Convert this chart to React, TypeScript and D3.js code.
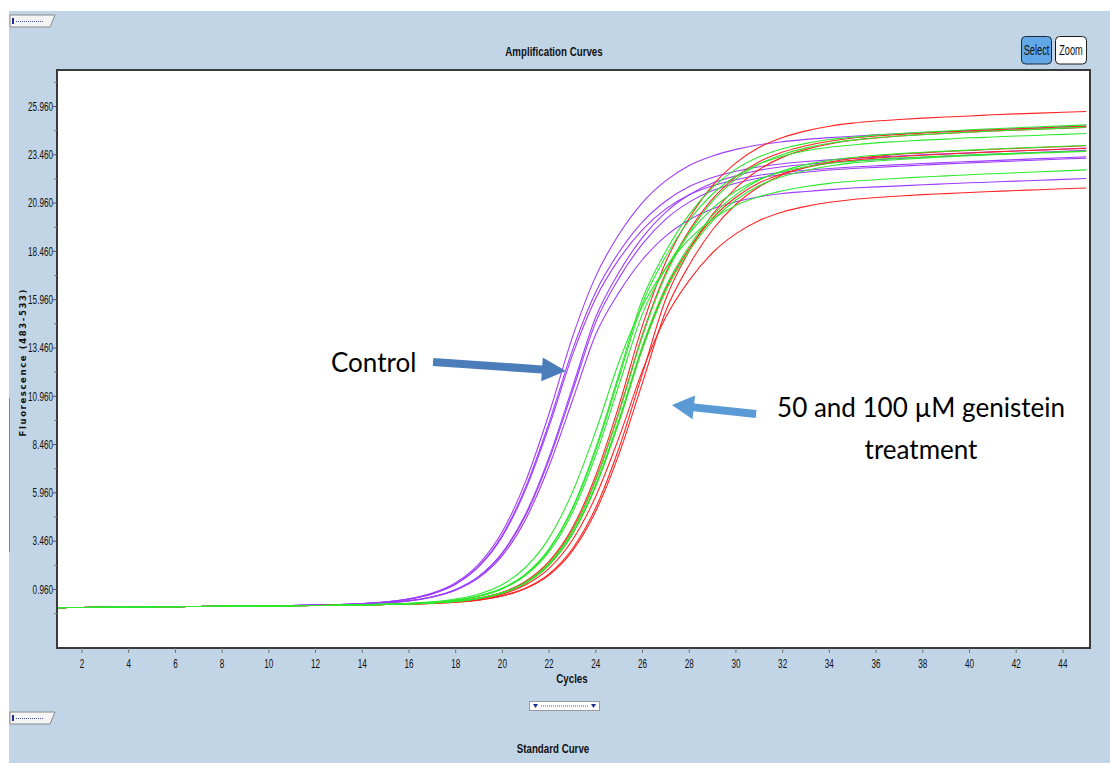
import React from 'react';
import * as d3 from 'd3';

// ---------- data ----------
const cycles = [1,2,3,4,5,6,7,8,9,10,11,12,13,14,15,16,17,18,19,20,21,22,23,24,25,26,27,28,29,30,31,32,33,34,35,36,37,38,39,40,41,42,43,44,45];

const yTickValues = [0.96, 3.46, 5.96, 8.46, 10.96, 13.46, 15.96, 18.46, 20.96, 23.46, 25.96];
const yMinorValues = [-0.29, 2.21, 4.71, 7.21, 9.71, 12.21, 14.71, 17.21, 19.71, 22.21, 24.71, 27.21];
const xTickValues = [2,4,6,8,10,12,14,16,18,20,22,24,26,28,30,32,34,36,38,40,42,44];

// Control (purple)
const control1 = [0.02,0.03,0.04,0.05,0.06,0.07,0.08,0.09,0.10,0.11,0.13,0.15,0.18,0.23,0.32,0.48,0.77,1.31,2.29,3.96,6.57,10.07,14.02,17.18,19.36,20.99,22.12,22.91,23.40,23.74,23.98,24.14,24.26,24.35,24.42,24.49,24.55,24.61,24.66,24.71,24.76,24.81,24.86,24.91,24.96];
const control2 = [0.02,0.03,0.04,0.05,0.06,0.07,0.08,0.09,0.10,0.11,0.13,0.15,0.18,0.23,0.31,0.46,0.74,1.25,2.18,3.78,6.26,9.59,13.35,16.36,18.43,19.99,21.07,21.82,22.29,22.61,22.84,23.00,23.11,23.20,23.27,23.34,23.40,23.46,23.51,23.56,23.61,23.66,23.71,23.76,23.81];
const control3 = [0.02,0.03,0.04,0.05,0.06,0.07,0.08,0.09,0.10,0.11,0.13,0.15,0.17,0.21,0.27,0.38,0.58,0.96,1.65,2.87,4.88,7.81,11.42,15.06,17.39,19.19,20.49,21.39,22.00,22.38,22.66,22.84,22.96,23.06,23.15,23.21,23.27,23.33,23.39,23.44,23.49,23.54,23.59,23.64,23.69];
const control4 = [0.02,0.03,0.04,0.05,0.06,0.07,0.08,0.09,0.10,0.11,0.13,0.15,0.18,0.23,0.31,0.46,0.73,1.23,2.15,3.71,6.14,9.40,13.09,16.04,18.07,19.59,20.66,21.39,21.86,22.17,22.40,22.56,22.66,22.75,22.83,22.89,22.95,23.01,23.06,23.11,23.16,23.21,23.26,23.31,23.36];
const control5 = [0.02,0.03,0.04,0.05,0.06,0.07,0.08,0.09,0.10,0.11,0.13,0.15,0.17,0.21,0.27,0.37,0.58,0.95,1.63,2.83,4.80,7.67,11.22,14.80,17.09,18.85,20.13,21.01,21.61,21.99,22.26,22.44,22.56,22.67,22.75,22.81,22.87,22.93,22.99,23.04,23.09,23.14,23.19,23.24,23.29];
const control6 = [0.02,0.03,0.04,0.05,0.06,0.07,0.08,0.09,0.10,0.11,0.13,0.15,0.17,0.20,0.26,0.37,0.56,0.92,1.57,2.71,4.60,7.35,10.74,14.17,16.35,18.04,19.26,20.10,20.67,21.03,21.29,21.46,21.56,21.66,21.74,21.80,21.85,21.91,21.96,22.01,22.05,22.10,22.14,22.19,22.23];

// Genistein treatment (green)
const green1 = [0.02,0.03,0.04,0.05,0.06,0.07,0.08,0.09,0.10,0.11,0.12,0.13,0.14,0.17,0.19,0.23,0.29,0.41,0.63,1.03,1.76,3.06,5.19,8.30,12.14,16.01,18.48,20.38,21.76,22.72,23.36,23.77,24.05,24.25,24.37,24.48,24.56,24.63,24.69,24.76,24.81,24.86,24.91,24.96,25.01];
const green2 = [0.02,0.03,0.04,0.05,0.06,0.07,0.08,0.09,0.10,0.11,0.12,0.13,0.14,0.16,0.18,0.21,0.26,0.35,0.51,0.80,1.34,2.32,4.00,6.61,10.12,14.08,17.25,19.43,21.06,22.20,22.98,23.48,23.82,24.06,24.22,24.34,24.43,24.50,24.57,24.63,24.69,24.74,24.79,24.84,24.89];
const green3 = [0.02,0.03,0.04,0.05,0.06,0.07,0.08,0.09,0.10,0.11,0.12,0.13,0.14,0.17,0.19,0.23,0.29,0.41,0.62,1.02,1.74,3.02,5.12,8.18,11.96,15.77,18.20,20.07,21.43,22.36,22.99,23.39,23.67,23.85,23.97,24.08,24.15,24.22,24.27,24.34,24.38,24.43,24.47,24.52,24.56];
const green4 = [0.02,0.03,0.04,0.05,0.06,0.07,0.08,0.09,0.10,0.11,0.12,0.13,0.14,0.17,0.19,0.23,0.29,0.40,0.61,0.99,1.69,2.92,4.95,7.91,11.56,15.24,17.58,19.39,20.69,21.59,22.20,22.58,22.84,23.02,23.12,23.22,23.30,23.35,23.40,23.46,23.50,23.54,23.58,23.62,23.66];
const green5 = [0.02,0.03,0.04,0.05,0.06,0.07,0.08,0.09,0.10,0.11,0.12,0.13,0.14,0.16,0.18,0.21,0.26,0.34,0.49,0.77,1.29,2.22,3.82,6.30,9.64,13.41,16.42,18.49,20.04,21.12,21.87,22.34,22.65,22.88,23.04,23.14,23.22,23.29,23.35,23.41,23.46,23.51,23.55,23.60,23.64];
const green6 = [0.02,0.03,0.04,0.05,0.06,0.07,0.08,0.09,0.10,0.11,0.12,0.13,0.15,0.17,0.20,0.25,0.32,0.47,0.73,1.22,2.11,3.63,6.00,9.17,12.76,15.63,17.61,19.09,20.13,20.84,21.30,21.60,21.82,21.98,22.09,22.17,22.25,22.31,22.37,22.43,22.48,22.53,22.58,22.63,22.68];
const green7 = [0.02,0.03,0.04,0.05,0.06,0.07,0.08,0.09,0.10,0.11,0.12,0.13,0.14,0.16,0.18,0.21,0.26,0.34,0.50,0.78,1.30,2.25,3.87,6.38,9.77,13.58,16.64,18.73,20.31,21.40,22.15,22.63,22.95,23.17,23.33,23.44,23.52,23.59,23.65,23.70,23.76,23.81,23.85,23.90,23.94];

// Genistein treatment (red)
const red1 = [0.02,0.03,0.04,0.05,0.06,0.07,0.08,0.09,0.10,0.11,0.12,0.13,0.14,0.16,0.18,0.21,0.27,0.36,0.52,0.82,1.39,2.41,4.15,6.87,10.52,14.63,17.92,20.18,21.87,23.04,23.85,24.36,24.70,24.94,25.10,25.21,25.29,25.36,25.42,25.47,25.53,25.58,25.62,25.66,25.70];
const red2 = [0.02,0.03,0.04,0.05,0.06,0.07,0.08,0.09,0.10,0.11,0.12,0.13,0.14,0.16,0.18,0.21,0.26,0.35,0.51,0.80,1.35,2.33,4.02,6.65,10.19,14.16,17.35,19.54,21.18,22.32,23.10,23.60,23.93,24.16,24.33,24.43,24.52,24.59,24.65,24.70,24.76,24.81,24.85,24.90,24.94];
const red3 = [0.02,0.03,0.04,0.05,0.06,0.07,0.08,0.09,0.10,0.11,0.12,0.13,0.14,0.15,0.18,0.20,0.24,0.30,0.42,0.64,1.04,1.77,3.07,5.20,8.31,12.15,16.01,18.48,20.38,21.75,22.70,23.34,23.74,24.02,24.21,24.33,24.43,24.51,24.57,24.63,24.70,24.74,24.79,24.83,24.88];
const red4 = [0.02,0.03,0.04,0.05,0.06,0.07,0.08,0.09,0.10,0.11,0.12,0.13,0.14,0.15,0.18,0.20,0.24,0.30,0.41,0.62,1.01,1.71,2.96,5.01,7.99,11.67,15.39,17.76,19.58,20.90,21.81,22.43,22.82,23.09,23.27,23.38,23.49,23.56,23.63,23.68,23.75,23.79,23.84,23.88,23.93];
const red5 = [0.02,0.03,0.04,0.05,0.06,0.07,0.08,0.09,0.10,0.11,0.12,0.13,0.14,0.16,0.18,0.21,0.26,0.34,0.49,0.77,1.29,2.23,3.84,6.34,9.71,13.49,16.53,18.61,20.17,21.26,22.01,22.48,22.80,23.03,23.18,23.29,23.37,23.44,23.50,23.55,23.61,23.66,23.70,23.75,23.79];
const red6 = [0.02,0.03,0.04,0.05,0.06,0.07,0.08,0.09,0.10,0.11,0.12,0.13,0.14,0.16,0.18,0.21,0.25,0.33,0.47,0.72,1.20,2.05,3.52,5.79,8.85,12.30,15.06,16.96,18.39,19.38,20.06,20.50,20.79,21.00,21.15,21.25,21.33,21.40,21.45,21.51,21.56,21.61,21.65,21.70,21.74];

const controlSeries = [control1, control2, control3, control4, control5, control6];
const redSeries = [red1, red2, red3, red4, red5, red6];
const greenSeries = [green1, green2, green3, green4, green5, green6, green7];

// annotation anchors in data space [cycle, fluorescence]
const arrowControl = { tail: [17.03, 12.73], tip: [22.72, 12.27] };
const arrowTreat = { tail: [30.86, 10.04], tip: [27.26, 10.51] };

// ---------- style ----------
const W = 1110;
const H = 763;
const PL = 57, PR = 1090, PT = 70, PB = 648;
const BG = '#c1d5e6';
const PURPLE = '#9d3cff';
const GREEN = '#2ee82e';
const RED = '#ff2424';
const SANS = "'Liberation Sans',Arial,sans-serif";
const ANN = "Lato,'Open Sans','Noto Sans',sans-serif";

function arrowPoints(x0: number, y0: number, x1: number, y1: number, sw: number, hl: number, hw: number) {
  const dx = x1 - x0, dy = y1 - y0;
  const len = Math.hypot(dx, dy);
  const ux = dx / len, uy = dy / len;
  const nx = -uy, ny = ux;
  const bx = x1 - ux * hl, by = y1 - uy * hl;
  const pts = [
    [x0 + nx * sw / 2, y0 + ny * sw / 2],
    [bx + nx * sw / 2, by + ny * sw / 2],
    [bx + nx * hw / 2, by + ny * hw / 2],
    [x1, y1],
    [bx - nx * hw / 2, by - ny * hw / 2],
    [bx - nx * sw / 2, by - ny * sw / 2],
    [x0 - nx * sw / 2, y0 - ny * sw / 2],
  ];
  return pts.map(p => p.map(v => v.toFixed(1)).join(',')).join(' ');
}

// condensed text: regular sans squeezed horizontally around its anchor
function NText({ x, y, anchor = 'start', size = 12, bold = false, sx = 0.68, children }: any) {
  return (
    <text
      transform={`translate(${x},${y}) scale(${sx},1)`}
      textAnchor={anchor}
      fontFamily={SANS}
      fontWeight={bold ? 'bold' : 'normal'}
      fontSize={size}
      fill="#111"
    >
      {children}
    </text>
  );
}

function Tab({ x, y }: { x: number; y: number }) {
  return (
    <g>
      <polygon points={`${x},${y} ${x + 45},${y} ${x + 40},${y + 12} ${x},${y + 12}`} fill="#f4f4f4" stroke="#8a8a8a" strokeWidth={1} />
      <rect x={x + 2} y={y + 3} width={2} height={6} fill="#1f2f8f" />
      <line x1={x + 6} x2={x + 34} y1={y + 6.5} y2={y + 6.5} stroke="#4455aa" strokeWidth={1} strokeDasharray="1,1" />
    </g>
  );
}

export default function App() {
  const x = d3.scaleLinear().domain([0.93, 45.16]).range([PL, PR]);
  const y = d3.scaleLinear().domain([-2.07, 27.85]).range([PB, PT]);
  const fmt = d3.format('.3f');
  const line = d3.line<number>()
    .x((_, i) => x(cycles[i]))
    .y(d => y(d))
    .curve(d3.curveMonotoneX);

  const a1 = arrowPoints(x(arrowControl.tail[0]), y(arrowControl.tail[1]), x(arrowControl.tip[0]), y(arrowControl.tip[1]), 8, 24, 24);
  const a2 = arrowPoints(x(arrowTreat.tail[0]), y(arrowTreat.tail[1]), x(arrowTreat.tip[0]), y(arrowTreat.tip[1]), 8, 22, 24);

  return (
    <svg width={W} height={H} style={{ position: 'absolute', left: 0, top: 0, display: 'block' }}>
      <rect x={0} y={0} width={W} height={H} fill="#ffffff" />
      <rect x={9} y={11} width={W - 9} height={H - 11} fill={BG} />
      <line x1={9.5} x2={9.5} y1={398} y2={552} stroke="#7d8894" strokeWidth={1} />

      <Tab x={10} y={15} />
      <Tab x={10} y={712} />

      <NText x={554} y={56} anchor="middle" size={12.5} bold sx={0.78}>Amplification Curves</NText>

      {/* Select / Zoom buttons */}
      <rect x={1021.5} y={36.5} width={30} height={27.5} rx={4} fill="#62a8e6" stroke="#1b2a3a" strokeWidth={1} />
      <NText x={1036.5} y={55} anchor="middle" size={14} sx={0.66}>Select</NText>
      <rect x={1055.5} y={36.5} width={31} height={27.5} rx={4} fill="#ffffff" stroke="#1b1b1b" strokeWidth={1} />
      <NText x={1071} y={55} anchor="middle" size={14} sx={0.66}>Zoom</NText>

      {/* plot area */}
      <rect x={PL} y={PT} width={PR - PL} height={PB - PT} fill="#ffffff" />
      <defs>
        <clipPath id="plotclip">
          <rect x={PL} y={PT} width={PR - PL} height={PB - PT} />
        </clipPath>
      </defs>
      <g clipPath="url(#plotclip)" fill="none" strokeWidth={1.1}>
        {controlSeries.map((s, i) => (
          <path key={'p' + i} d={line(s) || ''} stroke={PURPLE} />
        ))}
        {redSeries.map((s, i) => (
          <path key={'r' + i} d={line(s) || ''} stroke={RED} />
        ))}
        {greenSeries.map((s, i) => (
          <path key={'g' + i} d={line(s) || ''} stroke={GREEN} />
        ))}
      </g>
      <rect x={PL} y={PT} width={PR - PL} height={PB - PT} fill="none" stroke="#3a3a3a" strokeWidth={2} />

      {/* y axis */}
      {yTickValues.map(v => (
        <g key={'yt' + v}>
          <line x1={PL - 4} x2={PL} y1={y(v)} y2={y(v)} stroke="#555" strokeWidth={1} />
          <NText x={PL - 4} y={y(v) + 4.3} anchor="end" size={12}>{fmt(v)}</NText>
        </g>
      ))}
      {yMinorValues.map(v => (
        <line key={'ym' + v} x1={PL - 3} x2={PL} y1={y(v)} y2={y(v)} stroke="#777" strokeWidth={1} />
      ))}
      <text transform="translate(23,363) rotate(-90)" textAnchor="middle" dy="0.35em" fontFamily="'DejaVu Sans',sans-serif" fontWeight="bold" fontSize={8.5} textLength={147} lengthAdjust="spacing" fill="#111">Fluorescence (483-533)</text>

      {/* x axis */}
      {xTickValues.map(v => (
        <g key={'xt' + v}>
          <line x1={x(v)} x2={x(v)} y1={PB} y2={PB + 5} stroke="#777" strokeWidth={1} />
          <NText x={x(v)} y={668} anchor="middle" size={12}>{v}</NText>
        </g>
      ))}
      <NText x={572} y={683} anchor="middle" size={12.5} bold sx={0.78}>Cycles</NText>

      {/* bottom control */}
      <rect x={529.5} y={701.5} width={70} height={9} fill="#ffffff" stroke="#9a9a9a" strokeWidth={1} />
      <polygon points="533,704 538,704 535.5,708" fill="#1f2f8f" />
      <polygon points="591,704 596,704 593.5,708" fill="#1f2f8f" />
      <line x1={541} x2={588} y1={706} y2={706} stroke="#4455aa" strokeWidth={1} strokeDasharray="1,1" />
      <NText x={553} y={753} anchor="middle" size={12.5} bold sx={0.78}>Standard Curve</NText>

      {/* annotations */}
      <polygon points={a1} fill="#4a7dba" />
      <polygon points={a2} fill="#5b9bd5" />
      <text x={331} y={372} fontFamily={ANN} fontSize={26} fill="#000">Control</text>
      <text x={921} y={417} textAnchor="middle" fontFamily={ANN} fontSize={26} fill="#000">50 and 100 µM genistein</text>
      <text x={921} y={459} textAnchor="middle" fontFamily={ANN} fontSize={26} fill="#000">treatment</text>
    </svg>
  );
}
